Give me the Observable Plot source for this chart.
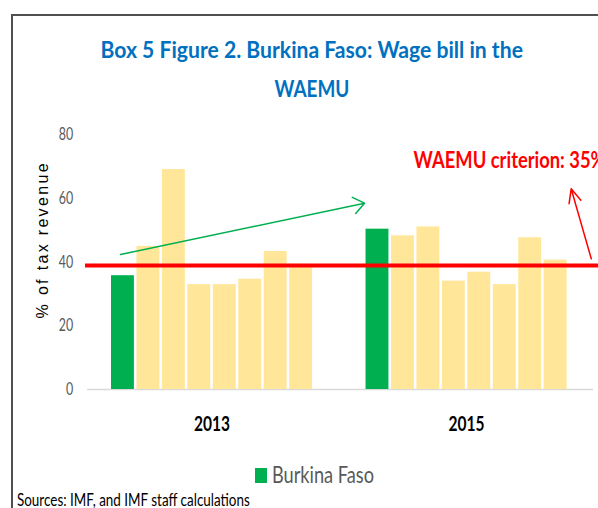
<!DOCTYPE html>
<html>
<head>
<meta charset="utf-8">
<script src="https://cdn.jsdelivr.net/npm/d3@7"></script>
<script src="https://cdn.jsdelivr.net/npm/@observablehq/plot@0.6"></script>
<style>
  html, body { margin: 0; padding: 0; background: #fff; }
  #wrap { position: relative; width: 598px; height: 508px; overflow: hidden; background: #fff; }
  #frame { position: absolute; left: 11px; top: 13.5px; width: 1000px; height: 1000px;
           border-left: 2px solid #505050; border-top: 2px solid #505050; }
  .lato { font-family: Lato, 'Open Sans', sans-serif; }
  .fit { display: inline-block; white-space: nowrap; transform-origin: 0 50%; }
  #title { position: absolute; left: 0; top: 30.1px; width: 624px; text-align: center;
           font-size: 23.2px; font-weight: bold; color: #0070C0; line-height: 38.4px; }
  #title .fit { transform-origin: 50% 50%; }
  #chart { position: absolute; left: 0; top: 0; }
  #legend { position: absolute; left: 255px; top: 464.2px; line-height: 1; font-size: 22.3px; color: #595959; white-space: nowrap; }
  #legend .sw { position: absolute; left: 0; top: 3.8px; width: 11.7px; height: 15px; background: #00B050; }
  #legend .fit { position: absolute; left: 16.7px; top: 0; }
  #source { position: absolute; left: 16.7px; top: 492.4px; line-height: 1; font-size: 16.5px; color: #000; white-space: nowrap; }
</style>
</head>
<body>
<div id="wrap">
  <div id="frame"></div>
  <div id="title" class="lato"><span class="fit" id="t1">Box 5 Figure 2. Burkina Faso: Wage bill in the</span><br><span class="fit" id="t2">WAEMU</span></div>
  <div id="chart"></div>
  <div id="legend" class="lato"><span class="sw"></span><span class="fit" id="legtext">Burkina Faso</span></div>
  <div id="source" class="lato"><span class="fit" id="srctext">Sources: IMF, and IMF staff calculations</span></div>
</div>
<script>
// ---- data ----
const years = ["2013", "2015"];
const countryGroup = ["Burkina Faso", "Other", "Other", "Other", "Other", "Other", "Other", "Other"];
const values2013 = [35.7, 44.9, 69.0, 32.9, 32.9, 34.6, 43.3, 39.3];
const values2015 = [50.3, 48.2, 51.0, 34.0, 36.8, 32.9, 47.6, 40.6];
const yTicks = [0, 20, 40, 60, 80];
const criterionLine = [38.9];
const criterionLabel = ["WAEMU criterion: 35%"];
const yLabel = ["% of tax revenue"];
const greenArrow = [{x1: 0.354, y1: 42.35, x2: 9.94, y2: 58.45}];
const redArrow = [{x1: 18.85, y1: 41.0, x2: 18.06, y2: 62.97}];

const LATO = "Lato, 'Open Sans', sans-serif";
const SANS = "'Liberation Sans', Arial, sans-serif";
const GREEN = "#00B050", YELLOW = "#FFE699";

const slotsPerYear = 10;
const barFrac = 0.9;
const table = [];
[values2013, values2015].forEach((vals, yi) => {
  vals.forEach((v, i) => table.push({year: years[yi], group: countryGroup[i], slot: yi * slotsPerYear + i, value: v}));
});
const yearCenters = years.map((y, yi) => ({year: y, x: yi * slotsPerYear + (countryGroup.length - 1 + barFrac) / 2}));

const chart = Plot.plot({
  width: 598,
  height: 508,
  marginTop: 134,
  marginBottom: 119,
  marginLeft: 80,
  marginRight: 0,
  style: {background: "transparent", overflow: "hidden"},
  x: {type: "linear", domain: [0, 17.9], range: [111, 566.6], axis: null},
  y: {domain: [0, 80], axis: null},
  color: {domain: ["Burkina Faso", "Other"], range: [GREEN, YELLOW]},
  marks: [
    Plot.axisY({ticks: yTicks, tickSize: 0, tickPadding: 7.3, label: null, fill: "#595959",
                fontSize: 17.7, fontFamily: LATO}),
    Plot.text(yLabel, {x: -2.715, y: 46.6, rotate: -90, fontSize: 16, fontFamily: SANS, fill: "#000"}),
    Plot.ruleY([0], {x1: -0.94, x2: 18.94, stroke: "#D9D9D9", strokeWidth: 1.3}),
    Plot.rectY(table, {x1: "slot", x2: d => d.slot + barFrac, y: "value", fill: "group"}),
    Plot.ruleY(criterionLine, {x1: -1.02, x2: 19.6, stroke: "#FF0000", strokeWidth: 4}),
    Plot.arrow(greenArrow, {x1: "x1", y1: "y1", x2: "x2", y2: "y2", stroke: GREEN, strokeWidth: 1.5, headLength: 13.5, headAngle: 75}),
    Plot.arrow(redArrow, {x1: "x1", y1: "y1", x2: "x2", y2: "y2", stroke: "#FF0000", strokeWidth: 1.5, headLength: 15, headAngle: 48}),
    Plot.text(criterionLabel, {x: 11.87, y: 71.9, text: d => d, textAnchor: "start", fill: "#FF0000",
                fontSize: 23.2, fontWeight: "bold", fontFamily: LATO}),
    Plot.text(yearCenters, {x: "x", y: 0, text: "year", dy: 35.1, fontSize: 20.5, fontWeight: "bold",
                fontFamily: LATO, fill: "#000"})
  ]
});

// compress SVG texts to the reference's condensed widths
const svgFit = (match, len, adjust) => {
  d3.select(chart).selectAll("text")
    .filter(function() { return match(this.textContent); })
    .attr("textLength", len)
    .attr("lengthAdjust", adjust || "spacingAndGlyphs");
};
svgFit(t => t === yLabel[0], 155, "spacing");
svgFit(t => t === criterionLabel[0], 192);
svgFit(t => years.includes(t), 36);
svgFit(t => yTicks.map(String).includes(t) && t.length === 2, 14.4);
svgFit(t => t === "0", 7.2);

document.getElementById("chart").appendChild(chart);

// compress HTML texts likewise
const htmlFit = (id, target) => {
  const el = document.getElementById(id);
  const w = el.offsetWidth;
  if (w > 0) el.style.transform = `scaleX(${target / w})`;
};
htmlFit("t1", 422);
htmlFit("t2", 75);
htmlFit("legtext", 102);
htmlFit("srctext", 233);
</script>
</body>
</html>
